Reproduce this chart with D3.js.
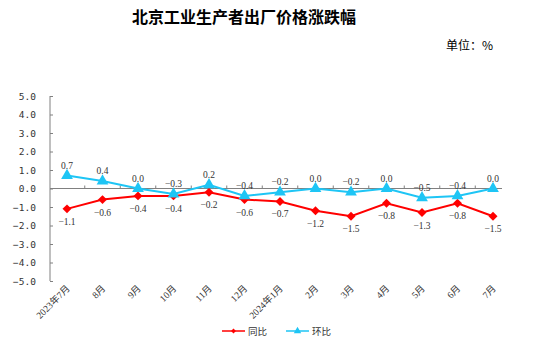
<!DOCTYPE html>
<html>
<head>
<meta charset="utf-8">
<script src="https://cdn.jsdelivr.net/npm/d3@7"></script>
<style>
  body { margin: 0; background: #fff; }
  svg text { font-family: "Liberation Serif", "Noto Sans CJK SC", serif; }
</style>
</head>
<body>
<div id="chart"></div>
<script>
const months = ["2023年7月", "8月", "9月", "10月", "11月", "12月", "2024年1月", "2月", "3月", "4月", "5月", "6月", "7月"];
const yoy = [-1.1, -0.6, -0.4, -0.4, -0.2, -0.6, -0.7, -1.2, -1.5, -0.8, -1.3, -0.8, -1.5];   // 同比
const mom = [0.7, 0.4, 0.0, -0.3, 0.2, -0.4, -0.2, 0.0, -0.2, 0.0, -0.5, -0.4, 0.0];        // 环比
const yTicks = [5, 4, 3, 2, 1, 0, -1, -2, -3, -4, -5];

const width = 537, height = 352;
const red = "#ff0000", blue = "#1ec5f5";

const svg = d3.select("#chart").append("svg")
    .attr("width", width)
    .attr("height", height);

// title
svg.append("text")
   .attr("x", 244).attr("y", 23)
   .attr("text-anchor", "middle")
   .attr("font-size", 16).attr("font-weight", "bold")
   .style("font-family", "'Noto Sans CJK SC', sans-serif")
   .attr("fill", "#000")
   .text("北京工业生产者出厂价格涨跌幅");

svg.append("text")
   .attr("x", 493).attr("y", 50)
   .attr("text-anchor", "end")
   .attr("font-size", 12)
   .style("font-family", "'Noto Sans CJK SC', sans-serif")
   .attr("fill", "#000")
   .text("单位：%");

const x = d3.scalePoint()
            .domain(months)
            .range([67, 493]);

const y = d3.scaleLinear()
            .domain([-5, 5])
            .range([281, 96]);

const step = x.step();

// y axis
const yAxis = svg.append("g")
   .attr("transform", "translate(50,0)")
   .call(d3.axisLeft(y).tickValues(yTicks).tickSize(-3).tickFormat(d3.format(".1f")));
yAxis.select(".domain").attr("stroke", "#808080").attr("d", `M0,${y(5)}V${y(-5)}`);
yAxis.selectAll(".tick line").attr("stroke", "#808080");
yAxis.selectAll(".tick text")
     .attr("x", -14)
     .attr("font-size", 9.5)
     .attr("fill", "#333")
     .style("font-family", "'DejaVu Sans Mono', monospace")
     .text(d => d3.format(".1f")(d));

// x axis line at zero
svg.append("line")
   .attr("x1", 50).attr("x2", 502)
   .attr("y1", y(0)).attr("y2", y(0))
   .attr("stroke", "#808080");

svg.selectAll(".xtick")
   .data(months.slice(0, -1))
   .enter().append("line")
   .attr("x1", d => x(d) + step / 2).attr("x2", d => x(d) + step / 2)
   .attr("y1", y(0)).attr("y2", y(0) - 3)
   .attr("stroke", "#808080");

// x labels at bottom
const xAxis = svg.append("g")
   .attr("transform", `translate(0,${y(-5)})`)
   .call(d3.axisBottom(x).tickSize(0));
xAxis.select(".domain").remove();
xAxis.selectAll(".tick text")
     .attr("font-size", 9.5)
     .attr("fill", "#333")
     .attr("text-anchor", "end")
     .attr("dy", 0)
     .attr("transform", "translate(3,8) rotate(-45)")
     .attr("y", 0);

const line = d3.line()
               .x((d, i) => x(months[i]))
               .y(d => y(d));

// 同比
svg.append("path")
   .datum(yoy)
   .attr("fill", "none")
   .attr("stroke", red)
   .attr("stroke-width", 2)
   .attr("d", line);

svg.selectAll(".yoyPt")
   .data(yoy)
   .enter().append("path")
   .attr("d", d3.symbol(d3.symbolSquare, 40))
   .attr("transform", (d, i) => `translate(${x(months[i])},${y(d)}) rotate(45)`)
   .attr("fill", red);

// 环比
svg.append("path")
   .datum(mom)
   .attr("fill", "none")
   .attr("stroke", blue)
   .attr("stroke-width", 2)
   .attr("d", line);

svg.selectAll(".momPt")
   .data(mom)
   .enter().append("path")
   .attr("d", d3.symbol(d3.symbolTriangle, 60))
   .attr("transform", (d, i) => `translate(${x(months[i])},${y(d)})`)
   .attr("fill", blue);

// data labels
svg.selectAll(".momLbl")
   .data(mom)
   .enter().append("text")
   .attr("x", (d, i) => x(months[i]))
   .attr("y", d => y(d) - 7)
   .attr("text-anchor", "middle")
   .attr("font-size", 9.5)
   .attr("fill", "#333")
   .text(d => d3.format(".1f")(d));

svg.selectAll(".yoyLbl")
   .data(yoy)
   .enter().append("text")
   .attr("x", (d, i) => x(months[i]))
   .attr("y", d => y(d) + 16)
   .attr("text-anchor", "middle")
   .attr("font-size", 9.5)
   .attr("fill", "#333")
   .text(d => d3.format(".1f")(d));

// legend
const legend = [
  {name: "同比", color: red, sym: d3.symbolSquare, size: 12, rot: 45, x: 222},
  {name: "环比", color: blue, sym: d3.symbolTriangle, size: 24, rot: 0, x: 286}
];
const lg = svg.selectAll(".lg").data(legend).enter().append("g")
   .attr("transform", d => `translate(${d.x},331)`);
lg.append("line")
  .attr("x1", 0).attr("x2", 23)
  .attr("stroke", d => d.color).attr("stroke-width", 1.5);
lg.append("path")
  .attr("d", d => d3.symbol(d.sym, d.size)())
  .attr("transform", d => `translate(11.5,0) rotate(${d.rot})`)
  .attr("fill", d => d.color);
lg.append("text")
  .attr("x", 26).attr("y", 3.5)
  .attr("font-size", 9.5)
  .attr("fill", "#333")
  .style("font-family", "'Noto Sans CJK SC', sans-serif")
  .text(d => d.name);
</script>
</body>
</html>
